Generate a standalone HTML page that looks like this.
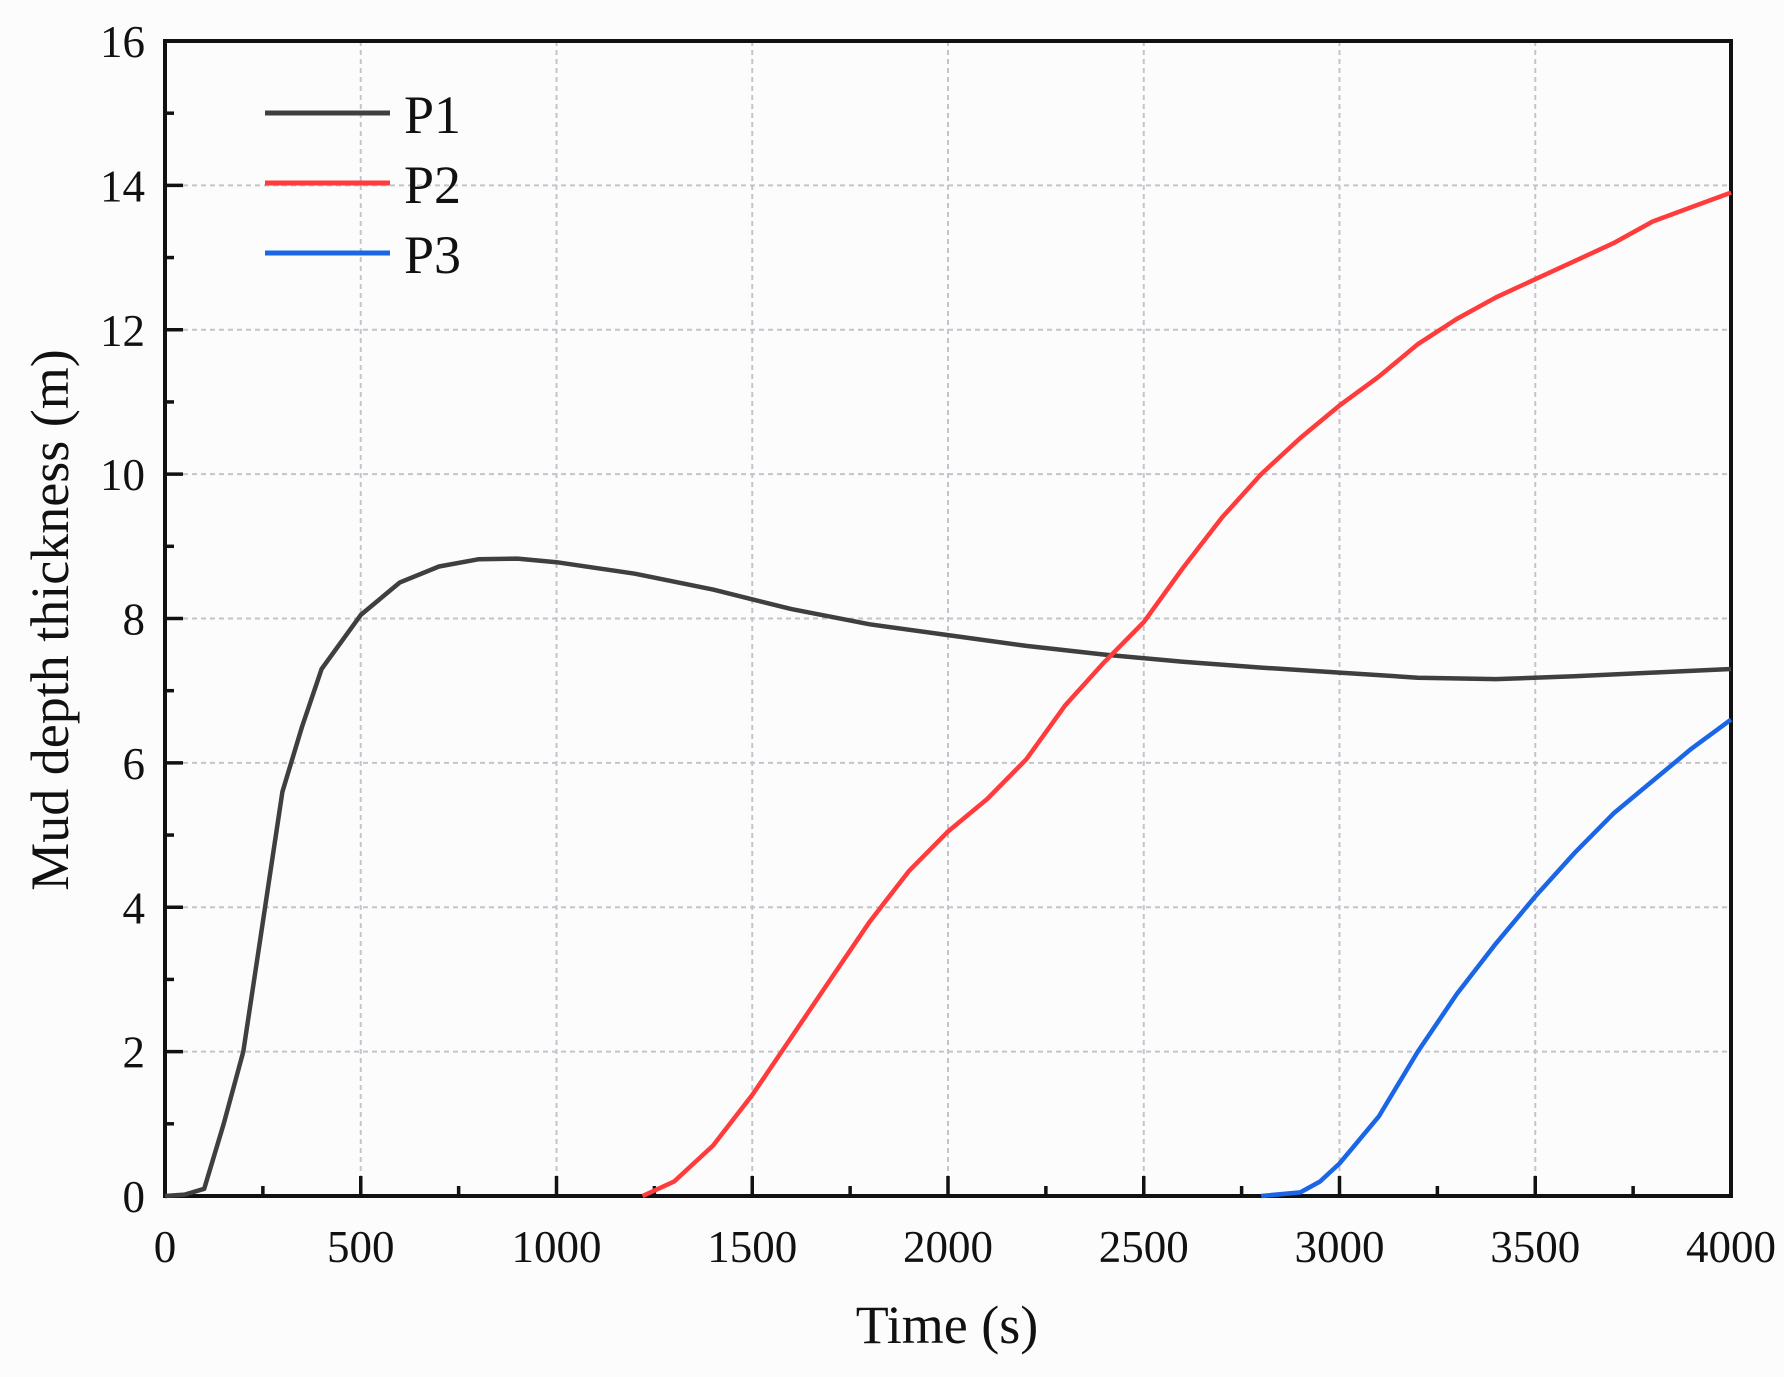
<!DOCTYPE html>
<html><head><meta charset="utf-8"><style>
html,body{margin:0;padding:0;background:#fcfcfc;}
svg{display:block;}
text{font-family:"Liberation Serif",serif;fill:#111;}
</style></head><body>
<svg id="chart" width="1784" height="1377" viewBox="0 0 1784 1377" xmlns="http://www.w3.org/2000/svg">
<rect width="1784" height="1377" fill="#fcfcfc"/>
<g id="grid"></g>
<g id="axes"></g>
<g id="series"></g>
<g id="legend"></g>
<text x="947" y="1343" font-size="54" text-anchor="middle">Time (s)</text>
<text transform="translate(68,620) rotate(-90)" font-size="54" text-anchor="middle">Mud depth  thickness (m)</text>
</svg>
<script>
const xTicks = [0,500,1000,1500,2000,2500,3000,3500,4000];
const yTicks = [0,2,4,6,8,10,12,14,16];
const seriesNames = ["P1","P2","P3"];
const p1x = [0,50,100,150,200,250,300,350,400,500,600,700,800,900,1000,1200,1400,1600,1800,2000,2200,2400,2600,2800,3000,3200,3400,3600,3800,4000];
const p1y = [0,0.02,0.1,1,2,3.8,5.6,6.5,7.3,8.05,8.5,8.72,8.82,8.83,8.78,8.62,8.4,8.13,7.92,7.77,7.62,7.5,7.4,7.32,7.25,7.18,7.16,7.2,7.25,7.3];
const p2x = [1220,1300,1400,1500,1600,1700,1800,1900,2000,2100,2200,2300,2400,2500,2600,2700,2800,2900,3000,3100,3200,3300,3400,3500,3600,3700,3800,3900,4000];
const p2y = [0,0.2,0.7,1.4,2.2,3,3.8,4.5,5.05,5.5,6.05,6.8,7.4,7.95,8.7,9.4,10,10.5,10.95,11.35,11.8,12.15,12.45,12.7,12.95,13.2,13.5,13.7,13.9];
const p3x = [2800,2900,2950,3000,3100,3200,3300,3400,3500,3600,3700,3800,3900,4000];
const p3y = [0,0.05,0.2,0.45,1.1,2,2.8,3.5,4.15,4.75,5.3,5.75,6.2,6.6];

const L=165,R=1731,T=41,B=1196;
const sx=v=>L+(v-0)/(4000-0)*(R-L);
const sy=v=>B-(v-0)/(16-0)*(B-T);
const NS="http://www.w3.org/2000/svg";
function mk(tag,attrs,parent){const e=document.createElementNS(NS,tag);for(const k in attrs)e.setAttribute(k,attrs[k]);parent.appendChild(e);return e;}
const grid=document.getElementById('grid'),axes=document.getElementById('axes'),series=document.getElementById('series'),legend=document.getElementById('legend');

xTicks.forEach((t,i)=>{
  const x=sx(t);
  if(i>0&&i<xTicks.length-1){const g=mk('line',{x1:x,x2:x,y1:T,y2:B,stroke:'#c4c4cc','stroke-width':2,'stroke-dasharray':'5 4'},grid);
  
  }
  const tk=mk('line',{x1:x,x2:x,y1:B,y2:B-20,stroke:'#111','stroke-width':3.5},axes);
  
  
  if(i<xTicks.length-1){const m=sx(t+250);const mt=mk('line',{x1:m,x2:m,y1:B,y2:B-10,stroke:'#111','stroke-width':3.5},axes);
  
  }
  const lb=mk('text',{x:x,y:B+66,'font-size':45,'text-anchor':'middle'},axes);lb.textContent=t;
  
  
});
yTicks.forEach((t,i)=>{
  const y=sy(t);
  if(i>0&&i<yTicks.length-1){const g=mk('line',{x1:L,x2:R,y1:y,y2:y,stroke:'#c4c4cc','stroke-width':2,'stroke-dasharray':'5 4'},grid);
  
  }
  const tk=mk('line',{x1:L,x2:L+18,y1:y,y2:y,stroke:'#111','stroke-width':3.5},axes);
  
  
  if(i<yTicks.length-1){const m=sy(t+1);const mt=mk('line',{x1:L,x2:L+9,y1:m,y2:m,stroke:'#111','stroke-width':3.5},axes);
  
  }
  const lb=mk('text',{x:L-20,y:y+16,'font-size':45,'text-anchor':'end'},axes);lb.textContent=t;
  
  
});
const box=mk('rect',{x:L,y:T,width:R-L,height:B-T,fill:'none',stroke:'#111','stroke-width':4},axes);



const colors=['#3f3f3f','#ff3b3b','#1a66e6'];
const data=[[p1x,p1y],[p2x,p2y],[p3x,p3y]];
data.forEach((d,i)=>{
  const pts=d[0].map((x,j)=>sx(x).toFixed(1)+','+sy(d[1][j]).toFixed(1)).join(' ');
  const pl=mk('polyline',{points:pts,fill:'none',stroke:colors[i],'stroke-width':4.5,'stroke-linejoin':'round'},series);
  
  
  const ly=113+i*70;
  const ll=mk('line',{x1:265,x2:390,y1:ly,y2:ly,stroke:colors[i],'stroke-width':5},legend);
  
  
  const lt=mk('text',{x:404,y:ly+20,'font-size':54},legend);lt.textContent=seriesNames[i];
  
  
});
</script>
</body></html>
